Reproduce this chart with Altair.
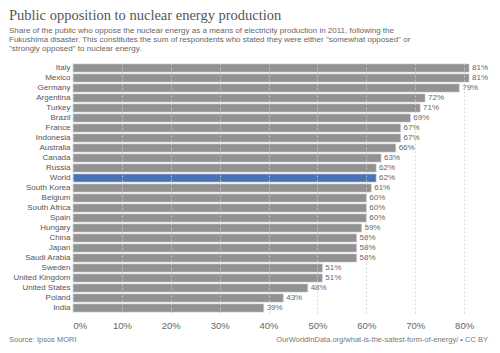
import altair as alt
import pandas as pd

countries = ["Italy", "Mexico", "Germany", "Argentina", "Turkey", "Brazil", "France",
             "Indonesia", "Australia", "Canada", "Russia", "World", "South Korea",
             "Belgium", "South Africa", "Spain", "Hungary", "China", "Japan",
             "Saudi Arabia", "Sweden", "United Kingdom", "United States", "Poland", "India"]
values = [81, 81, 79, 72, 71, 69, 67, 67, 66, 63, 62, 62, 61, 60, 60, 60, 59, 58, 58, 58,
          51, 51, 48, 43, 39]
tick_values = [0, 10, 20, 30, 40, 50, 60, 70, 80]

title_text = "Public opposition to nuclear energy production"
subtitle_lines = [
    "Share of the public who oppose the nuclear energy as a means of electricity production in 2011, following the",
    "Fukushima disaster. This constitutes the sum of respondents who stated they were either \"somewhat opposed\" or",
    "\"strongly opposed\" to nuclear energy.",
]
source_text = "Source: Ipsos MORI"
credit_text = "OurWorldInData.org/what-is-the-safest-form-of-energy/ • CC BY"

df = pd.DataFrame({"country": countries, "value": values})
df["label"] = df["value"].astype(str) + "%"
df["is_world"] = df["country"] == "World"

W, H = 396, 250
SANS = "Liberation Sans"

x_enc = alt.X("value:Q", scale=alt.Scale(domain=[0, 81], nice=False, zero=True),
              axis=alt.Axis(values=tick_values, labelExpr="datum.value + '%'", title=None,
                            domain=False, ticks=False, grid=True, gridDash=[2, 2],
                            gridColor="#d0d0d0", gridOpacity=0.8, labelFontSize=9.5,
                            labelColor="#666", labelFont=SANS, labelPadding=7, zindex=1))
y_enc = alt.Y("country:N", sort=countries,
              scale=alt.Scale(paddingInner=0.2, paddingOuter=0.1),
              axis=alt.Axis(title=None, domain=False, ticks=False, labelFontSize=8,
                            labelColor="#555", labelFont=SANS, labelPadding=3))

base = alt.Chart(df)
bars = base.mark_bar(stroke="#c4c4c4", strokeWidth=0.6).encode(
    x=x_enc, y=y_enc,
    color=alt.Color("is_world:N", scale=alt.Scale(domain=[False, True], range=["#929292", "#4a72b8"]),
                    legend=None),
)
labels = base.mark_text(align="left", baseline="middle", dx=3, fontSize=8, font=SANS,
                        color="#666").encode(
    x="value:Q", y=alt.Y("country:N", sort=countries), text="label:N")

def txt(s, x, y, size, color, font=SANS, align="left"):
    return alt.Chart(pd.DataFrame({"t": [s]})).mark_text(
        align=align, baseline="alphabetic", fontSize=size, font=font, color=color
    ).encode(x=alt.value(x), y=alt.value(y), text="t:N")

texts = [txt(title_text, -64, -43, 14.5, "#555", font="Liberation Serif")]
for i, line in enumerate(subtitle_lines):
    texts.append(txt(line, -64, -30 + 9 * i, 8, "#666"))
texts.append(txt(source_text, -64, 279, 7.5, "#777"))
texts.append(txt(credit_text, 415, 279, 7.5, "#777", align="right"))

chart = alt.layer(bars, labels, *texts).properties(
    width=W, height=H,
    autosize=alt.AutoSizeParams(type="none"),
    padding={"left": 73, "top": 63, "right": 31, "bottom": 40},
    background="white",
).configure_view(stroke=None)

chart.save("out.html", embed_options={"renderer": "svg", "actions": False})
